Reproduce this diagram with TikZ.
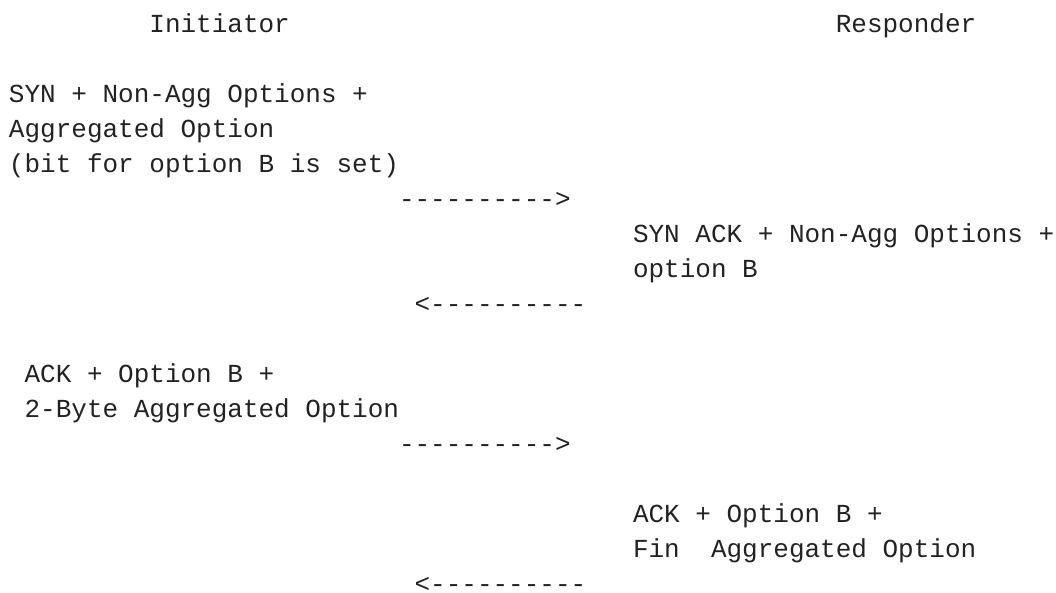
\documentclass[tikz,border=0pt]{standalone}
\usepackage{fontspec}
\setmonofont{Liberation Mono}
\definecolor{ink}{RGB}{34,34,34}
\begin{document}
\begin{tikzpicture}[x=1pt,y=-1pt,
  txt/.style={anchor=base west, inner sep=0pt, outer sep=0pt,
    font=\ttfamily\fontsize{26}{35}\selectfont, text=ink}]
\useasboundingbox (0,0) rectangle (1056,592);
\def\cw{15.6}
\def\xo{9}
\def\lh{35}
\def\lo{32}
% headers
\node[txt] (init) at ({\xo+9*\cw},{\lo+0*\lh}) {Initiator};
\node[txt] (resp) at ({\xo+53*\cw},{\lo+0*\lh}) {Responder};
% message 1
\node[txt] (m1a) at ({\xo+0*\cw},{\lo+2*\lh}) {SYN + Non-Agg Options +};
\node[txt] (m1b) at ({\xo+0*\cw},{\lo+3*\lh}) {Aggregated Option};
\node[txt] (m1c) at ({\xo+0*\cw},{\lo+4*\lh}) {(bit for option B is set)};
\node[txt] (a1) at ({\xo+25*\cw},{\lo+5*\lh}) {---------->};
% message 2
\node[txt] (m2a) at ({\xo+40*\cw},{\lo+6*\lh}) {SYN ACK + Non-Agg Options +};
\node[txt] (m2b) at ({\xo+40*\cw},{\lo+7*\lh}) {option B};
\node[txt] (a2) at ({\xo+26*\cw},{\lo+8*\lh}) {<----------};
% message 3
\node[txt] (m3a) at ({\xo+1*\cw},{\lo+10*\lh}) {ACK + Option B +};
\node[txt] (m3b) at ({\xo+1*\cw},{\lo+11*\lh}) {2-Byte Aggregated Option};
\node[txt] (a3) at ({\xo+25*\cw},{\lo+12*\lh}) {---------->};
% message 4
\node[txt] (m4a) at ({\xo+40*\cw},{\lo+14*\lh}) {ACK + Option B +};
\node[txt] (m4b) at ({\xo+40*\cw},{\lo+15*\lh}) {Fin\ \ Aggregated Option};
\node[txt] (a4) at ({\xo+26*\cw},{\lo+16*\lh}) {<----------};
\end{tikzpicture}
\end{document}
